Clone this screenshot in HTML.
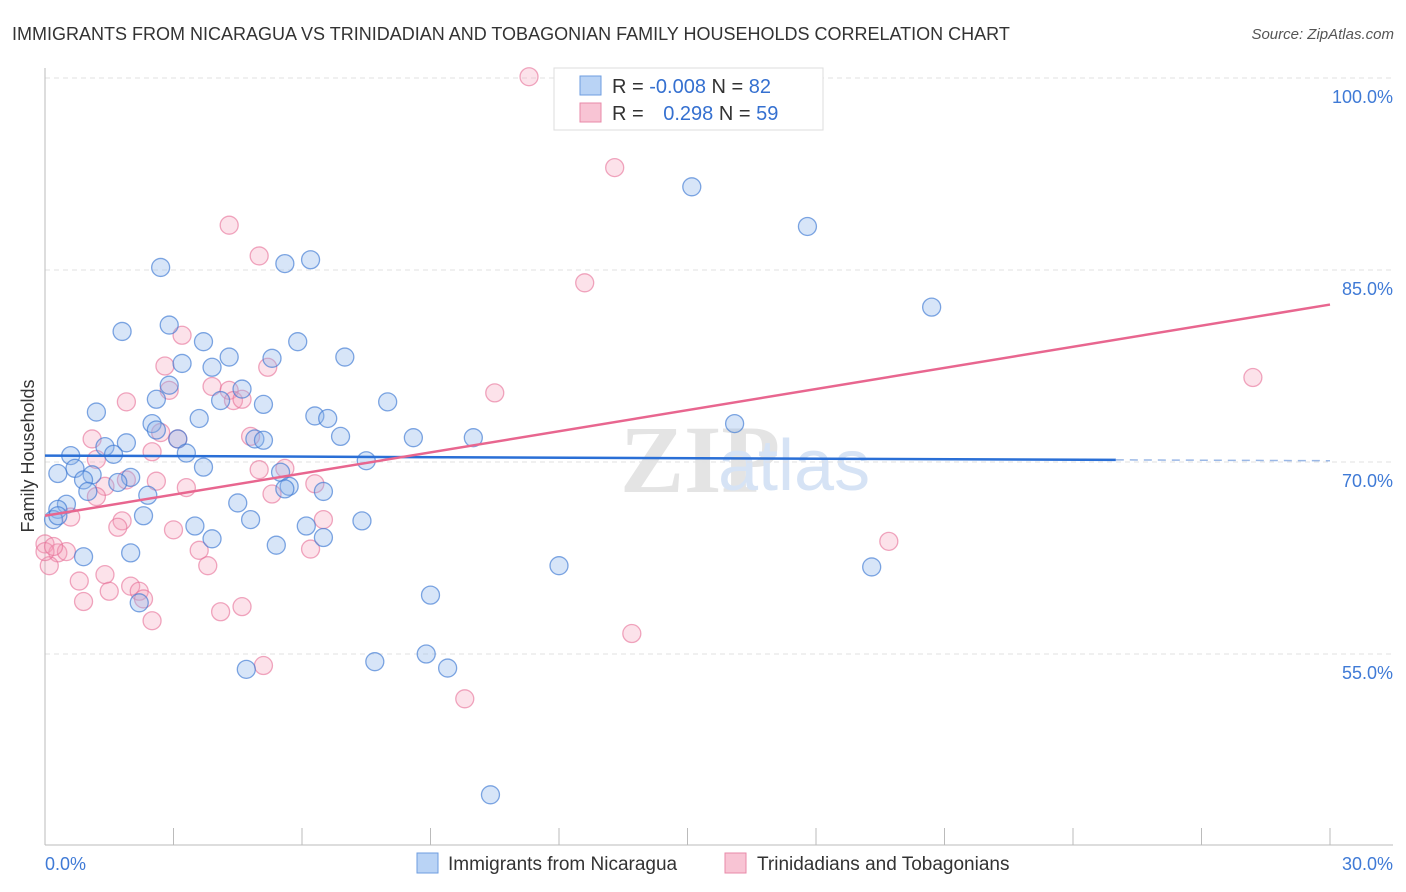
<!DOCTYPE html>
<html><head><meta charset="utf-8"><style>
body{margin:0;background:#fff;font-family:"Liberation Sans",sans-serif;}
#wrap{position:relative;width:1406px;height:892px;overflow:hidden}
</style></head><body><div id="wrap">
<svg id="svg" width="1406" height="892" xmlns="http://www.w3.org/2000/svg">
<text x="12" y="40" font-size="18" fill="#333">IMMIGRANTS FROM NICARAGUA VS TRINIDADIAN AND TOBAGONIAN FAMILY HOUSEHOLDS CORRELATION CHART</text>
<text x="1394" y="39" font-size="15" fill="#555" font-style="italic" text-anchor="end">Source: ZipAtlas.com</text>
<text x="620" y="492" font-size="96" fill="#e4e4e4" font-family="Liberation Serif" font-weight="bold">ZIP</text>
<text x="718" y="490" font-size="72" fill="#d6e3f5">atlas</text>
<g id="grid"></g><g id="marks"></g>
<text transform="translate(34,456) rotate(-90)" font-size="18" fill="#333" text-anchor="middle">Family Households</text>
<rect x="554" y="68" width="269" height="62" fill="#fff" stroke="#ddd"/>
<rect x="580" y="76" width="21" height="19" fill="#b9d3f5" stroke="#6e9ee0"/>
<rect x="580" y="103" width="21" height="19" fill="#f8c4d4" stroke="#e88aa8"/>
<text x="612" y="93" font-size="20" fill="#333">R = <tspan fill="#3570d0">-0.008</tspan>   N = <tspan fill="#3570d0">82</tspan></text>
<text x="612" y="120" font-size="20" fill="#333">R = <tspan fill="#3570d0" dx="14">0.298</tspan>   N = <tspan fill="#3570d0">59</tspan></text>
<rect x="417" y="853" width="21" height="20" fill="#b9d3f5" stroke="#6e9ee0"/>
<text x="448" y="870" font-size="19" fill="#333">Immigrants from Nicaragua</text>
<rect x="725" y="853" width="21" height="20" fill="#f8c4d4" stroke="#e88aa8"/>
<text x="757" y="870" font-size="19" fill="#333">Trinidadians and Tobagonians</text>
</svg></div>
<script>
const yTicks=[100,85,70,55];
const xTickLabels=["0.0%","30.0%"];
const blueX=[15.1,17.8,2.7,5.6,6.2,20.7,1.8,2.9,3.7,5.9,4.3,5.3,7.0,3.2,3.9,2.9,4.6,2.6,4.1,5.1,8.0,1.2,3.6,6.3,6.6,2.5,2.6,16.1,3.1,4.9,5.1,6.9,8.6,10.0,1.9,1.4,0.6,3.3,7.5,1.6,0.7,0.3,3.7,5.5,1.1,2.0,0.9,1.7,1.0,5.7,5.6,6.5,2.4,0.5,0.3,4.5,2.3,0.2,4.8,3.5,6.1,7.4,3.9,6.5,5.4,2.0,0.9,12.0,19.3,9.0,2.2,7.7,8.9,9.4,4.7,10.4,0.3];
const blueY=[91.5,88.4,85.2,85.5,85.8,82.1,80.2,80.7,79.4,79.4,78.2,78.1,78.2,77.7,77.4,76.0,75.7,74.9,74.8,74.5,74.7,73.9,73.4,73.6,73.4,73.0,72.5,73.0,71.8,71.8,71.7,72.0,71.9,71.9,71.5,71.2,70.5,70.7,70.1,70.6,69.5,69.1,69.6,69.2,69.0,68.8,68.6,68.4,67.7,68.1,67.9,67.7,67.4,66.7,66.3,66.8,65.8,65.5,65.5,65.0,65.0,65.4,64.0,64.1,63.5,62.9,62.6,61.9,61.8,59.6,59.0,54.4,55.0,53.9,53.8,44.0,65.8];
const pinkX=[11.3,13.3,4.3,5.0,12.6,3.2,2.8,5.2,2.9,3.9,4.3,4.4,10.5,28.2,1.9,1.1,2.7,2.5,4.8,3.1,1.2,5.6,5.3,6.3,1.9,3.3,2.6,1.4,1.2,0.6,1.8,1.7,3.0,6.5,19.7,0.0,0.3,0.5,3.6,6.2,3.8,1.4,0.8,2.0,2.2,1.5,2.3,0.9,2.5,4.6,4.1,13.7,5.1,9.8,0.1,0.0,4.6,0.2,5.0];
const pinkY=[100.1,93.0,88.5,86.1,84.0,79.9,77.5,77.4,75.6,75.9,75.6,74.8,75.4,76.6,74.7,71.8,72.3,70.8,72.0,71.8,70.2,69.5,67.5,68.3,68.6,68.0,68.5,68.1,67.3,65.7,65.4,64.9,64.7,65.5,63.8,63.6,62.9,63.0,63.1,63.2,61.9,61.2,60.7,60.3,59.9,59.9,59.3,59.1,57.6,58.7,58.3,56.6,54.1,51.5,61.9,63.0,74.9,63.4,69.4];
const blueTrend=[70.5,70.1];
const pinkTrend=[65.8,82.3];
const X0=45,X1=1330,Y100=78,PXPER=192/15;
const sx=v=>X0+(v/30)*(X1-X0);
const sy=v=>Y100+(100-v)*PXPER;
const NS="http://www.w3.org/2000/svg";
const grid=document.getElementById('grid'),marks=document.getElementById('marks');
function mk(tag,attrs,parent){const e=document.createElementNS(NS,tag);for(const k in attrs)e.setAttribute(k,attrs[k]);parent.appendChild(e);return e;}
yTicks.forEach(t=>{
 const l=mk('line',{x1:45,x2:1393,y1:sy(t),y2:sy(t),stroke:'#e2e2e2','stroke-dasharray':'5,4'},grid);
 
 
 const tx=mk('text',{x:1393,y:sy(t)+25,'font-size':18,fill:'#3f7ad6','text-anchor':'end'},grid);
 tx.textContent=t.toFixed(1)+'%';
 
 
});
const ax=mk('line',{x1:45,x2:45,y1:68,y2:845,stroke:'#bbb'},grid);


const bx=mk('line',{x1:45,x2:1393,y1:845,y2:845,stroke:'#bbb'},grid);


for(let i=0;i<=10;i++){const x=45+i*128.5;const t=mk('line',{x1:x,x2:x,y1:828,y2:845,stroke:'#bbb'},grid);
 
 }
[[0,'start',45],[1,'end',1393]].forEach(([i,a,x])=>{const t=mk('text',{x:x,y:870,'font-size':18,fill:'#3f7ad6','text-anchor':a},grid);t.textContent=xTickLabels[i];
 
 });
pinkX.forEach((v,i)=>{const c=mk('circle',{cx:sx(v),cy:sy(pinkY[i]),r:9,fill:'rgba(245,160,185,0.3)',stroke:'rgba(230,110,150,0.6)','stroke-width':1.3},marks);
 
 });
blueX.forEach((v,i)=>{const c=mk('circle',{cx:sx(v),cy:sy(blueY[i]),r:9,fill:'rgba(140,180,235,0.35)',stroke:'rgba(60,120,210,0.65)','stroke-width':1.3},marks);
 
 });
const bEnd=25;
const bl=mk('line',{x1:sx(0),y1:sy(blueTrend[0]),x2:sx(bEnd),y2:sy(blueTrend[0]+(blueTrend[1]-blueTrend[0])*bEnd/30),stroke:'#2a6fd6','stroke-width':2.5},marks);


const bd=mk('line',{x1:sx(bEnd),y1:sy(blueTrend[0]+(blueTrend[1]-blueTrend[0])*bEnd/30),x2:sx(30),y2:sy(blueTrend[1]),stroke:'#9bb8e6','stroke-width':1.5,'stroke-dasharray':'8,6'},marks);


const pl=mk('line',{x1:sx(0),y1:sy(pinkTrend[0]),x2:sx(30),y2:sy(pinkTrend[1]),stroke:'#e8668f','stroke-width':2.5},marks);


</script></body></html>
